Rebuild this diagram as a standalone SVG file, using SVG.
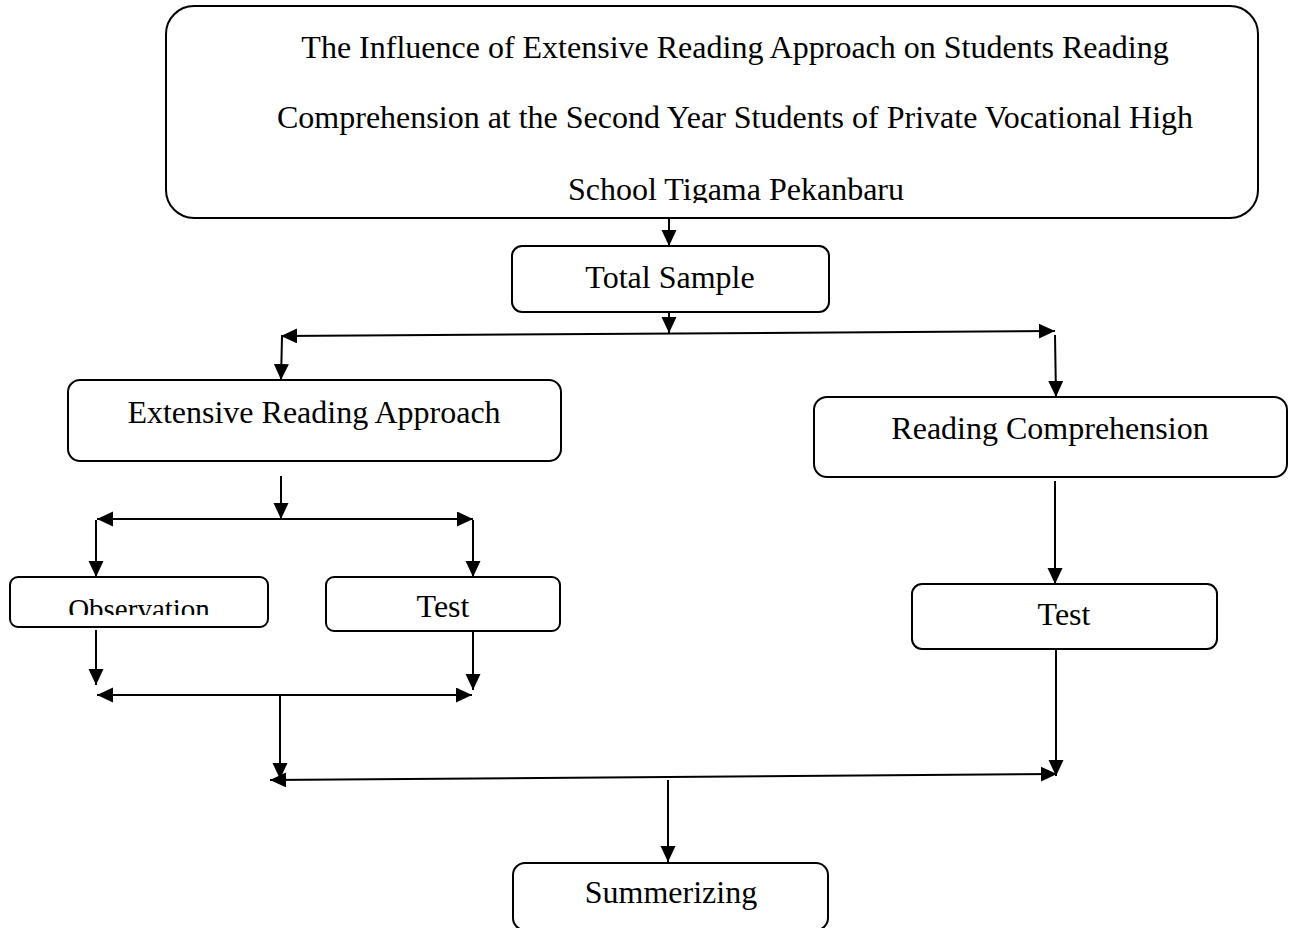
<svg xmlns="http://www.w3.org/2000/svg" width="1296" height="928" viewBox="0 0 1296 928">
<style>
.box{fill:#fff;stroke:#000;stroke-width:2}
.lbl{font-family:"Liberation Serif","Times New Roman",serif;font-size:32px;fill:#000;text-anchor:middle}
.c{fill:none;stroke:#000;stroke-width:2}
</style>
<defs>
<marker id="ah" markerUnits="userSpaceOnUse" markerWidth="18" markerHeight="18" refX="16" refY="7.5" orient="auto-start-reverse">
<path d="M0,0 L16,7.5 L0,15 z" fill="#000"/>
</marker>
<clipPath id="clipTop"><rect x="166" y="6" width="1092" height="197"/></clipPath>
<clipPath id="clipObs"><rect x="10" y="577" width="258" height="38"/></clipPath>
</defs>
<rect width="1296" height="928" fill="#fff"/>
<g id="title">
<rect class="box" x="166" y="6" width="1092" height="212" rx="28"/>
<g clip-path="url(#clipTop)">
<text class="lbl" x="735" y="58">The Influence of Extensive Reading Approach on Students Reading</text>
<text class="lbl" x="735" y="128">Comprehension at the Second Year Students of Private Vocational High</text>
<text class="lbl" x="736" y="200">School Tigama Pekanbaru</text>
</g>
</g>
<g id="total-sample">
<rect class="box" x="512" y="246" width="317" height="66" rx="10"/>
<text class="lbl" x="670" y="288">Total Sample</text>
</g>
<g id="extensive">
<rect class="box" x="68" y="380" width="493" height="81" rx="12"/>
<text class="lbl" x="314" y="423">Extensive Reading Approach</text>
</g>
<g id="reading-comprehension">
<rect class="box" x="814" y="397" width="473" height="80" rx="13"/>
<text class="lbl" x="1050" y="439">Reading Comprehension</text>
</g>
<g id="observation">
<rect class="box" x="10" y="577" width="258" height="50" rx="8"/>
<g clip-path="url(#clipObs)">
<text class="lbl" x="139" y="619" style="font-size:29px">Observation</text>
</g>
</g>
<g id="test-left">
<rect class="box" x="326" y="577" width="234" height="54" rx="8"/>
<text class="lbl" x="443" y="617">Test</text>
</g>
<g id="test-right">
<rect class="box" x="912" y="584" width="305" height="65" rx="10"/>
<text class="lbl" x="1064" y="625">Test</text>
</g>
<g id="summerizing">
<rect class="box" x="513" y="863" width="315" height="67" rx="12"/>
<text class="lbl" x="671" y="903">Summerizing</text>
</g>
<g id="connectors">
<line class="c" x1="669" y1="218" x2="669" y2="246" marker-end="url(#ah)"/>
<line class="c" x1="669" y1="312" x2="669" y2="333" marker-end="url(#ah)"/>
<line class="c" x1="281" y1="336" x2="1055" y2="331" marker-start="url(#ah)" marker-end="url(#ah)"/>
<line class="c" x1="282" y1="337" x2="281" y2="380" marker-end="url(#ah)"/>
<line class="c" x1="1055" y1="335" x2="1056" y2="397" marker-end="url(#ah)"/>
<line class="c" x1="281" y1="476" x2="281" y2="519" marker-end="url(#ah)"/>
<line class="c" x1="97" y1="519" x2="473" y2="519" marker-start="url(#ah)" marker-end="url(#ah)"/>
<line class="c" x1="96" y1="520" x2="96" y2="577" marker-end="url(#ah)"/>
<line class="c" x1="473" y1="520" x2="473" y2="577" marker-end="url(#ah)"/>
<line class="c" x1="96" y1="630" x2="96" y2="685" marker-end="url(#ah)"/>
<line class="c" x1="473" y1="631" x2="473" y2="690" marker-end="url(#ah)"/>
<line class="c" x1="97" y1="695" x2="472" y2="695" marker-start="url(#ah)" marker-end="url(#ah)"/>
<line class="c" x1="280" y1="695" x2="280" y2="779" marker-end="url(#ah)"/>
<line class="c" x1="1055" y1="481" x2="1055" y2="584" marker-end="url(#ah)"/>
<line class="c" x1="1056" y1="649" x2="1056" y2="776" marker-end="url(#ah)"/>
<line class="c" x1="270" y1="780" x2="1057" y2="774" marker-start="url(#ah)" marker-end="url(#ah)"/>
<line class="c" x1="668" y1="780" x2="668" y2="862" marker-end="url(#ah)"/>
</g>
</svg>
